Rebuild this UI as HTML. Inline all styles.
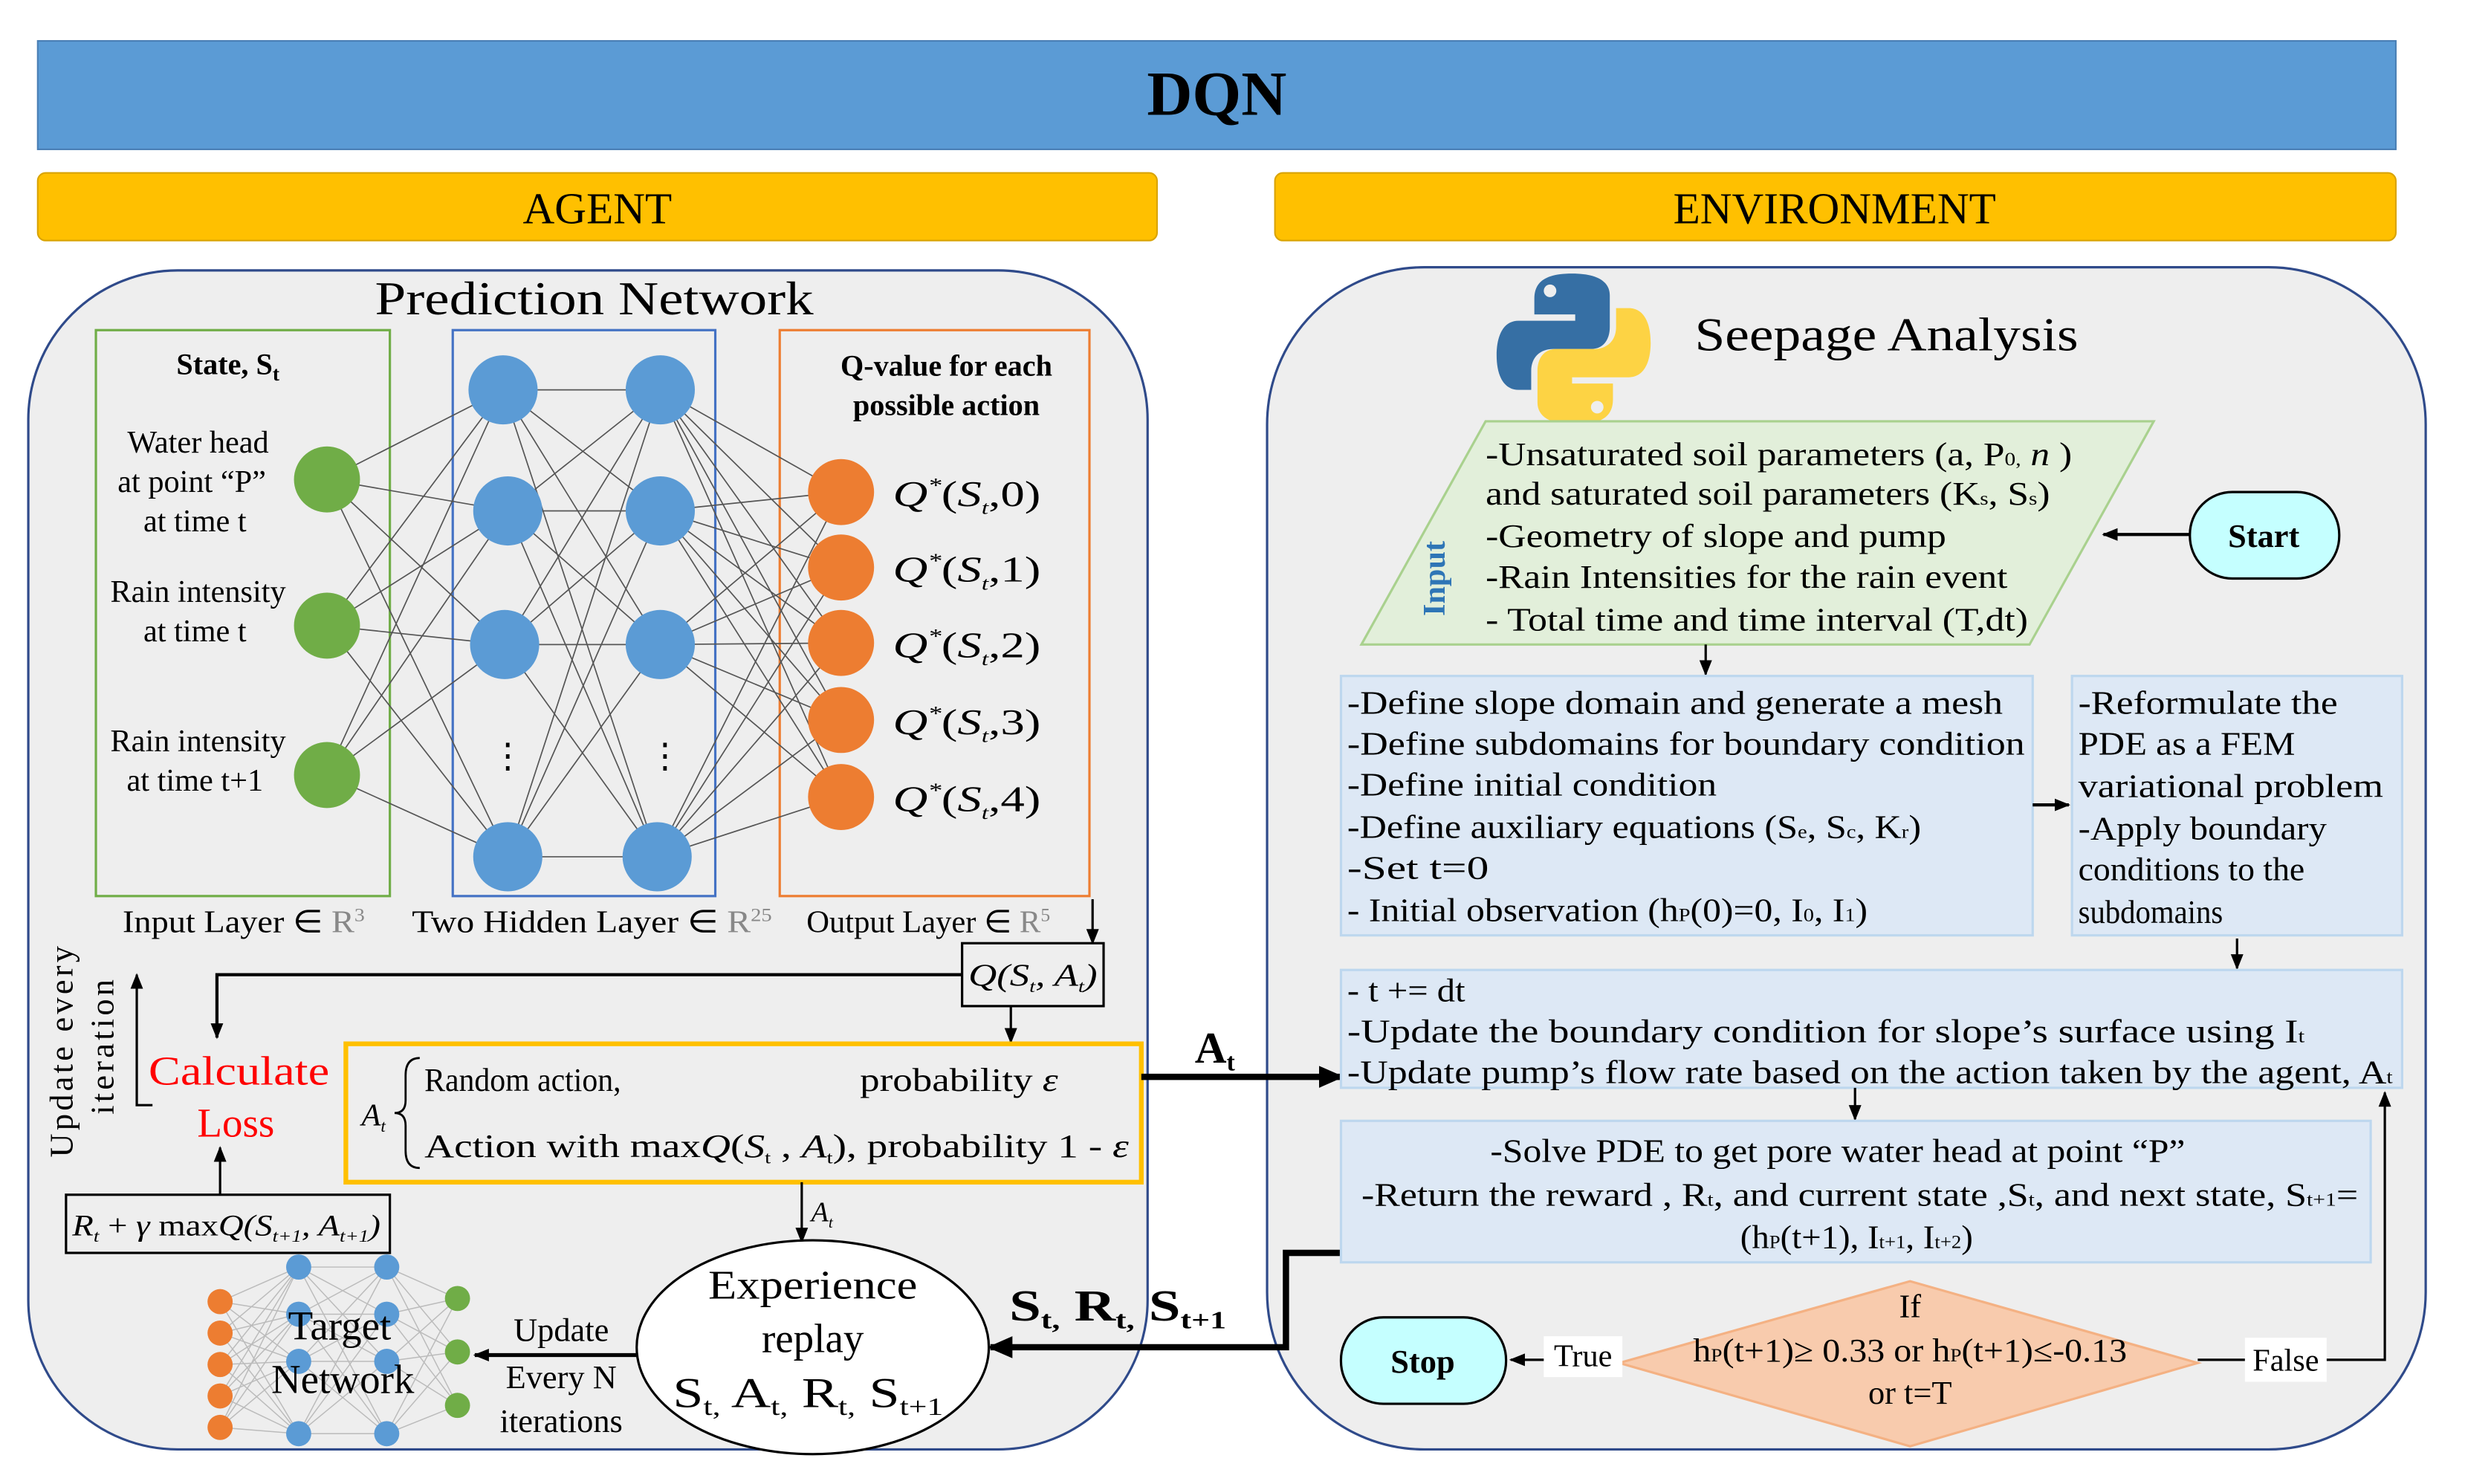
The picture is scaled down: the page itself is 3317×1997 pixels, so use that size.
<!DOCTYPE html>
<html><head><meta charset="utf-8"><style>
html,body{margin:0;padding:0;background:#fff;}
svg{display:block;}
text{font-family:"Liberation Serif",serif;}
</style></head><body>
<svg id="s" xmlns="http://www.w3.org/2000/svg" width="3317" height="1997" viewBox="0 0 1568 944">
<defs>
<marker id="ah" markerWidth="10" markerHeight="10" refX="9" refY="5" orient="auto" markerUnits="userSpaceOnUse"><path d="M0,1 L10,5 L0,9 z" fill="#000"/></marker>
<marker id="ahb" markerWidth="16" markerHeight="16" refX="14" refY="8" orient="auto" markerUnits="userSpaceOnUse"><path d="M0,1 L16,8 L0,15 z" fill="#000"/></marker>
</defs>
<rect width="1568" height="944" fill="#fff"/>
<rect x="24" y="26" width="1500" height="69" fill="#5b9bd5" stroke="#4a7fb5"/>
<text x="774" y="73" font-size="40" font-weight="bold" text-anchor="middle">DQN</text>
<rect x="24" y="110" width="712" height="43" rx="5" fill="#ffc000" stroke="#d9a300"/>
<text x="380" y="142" font-size="28" text-anchor="middle">AGENT</text>
<rect x="811" y="110" width="713" height="43" rx="5" fill="#ffc000" stroke="#d9a300"/>
<text x="1167" y="142" font-size="28" text-anchor="middle">ENVIRONMENT</text>
<rect x="18" y="172" width="712" height="750" rx="95" fill="#eeeeee" stroke="#2f4a8a" stroke-width="1.5"/>
<rect x="806" y="170" width="737" height="752" rx="100" fill="#eeeeee" stroke="#2f4a8a" stroke-width="1.5"/>
<text x="378" y="200" font-size="30" text-anchor="middle" textLength="279" lengthAdjust="spacingAndGlyphs">Prediction Network</text>
<rect x="61" y="210" width="187" height="360" fill="none" stroke="#70ad47" stroke-width="1.5"/>
<rect x="288" y="210" width="167" height="360" fill="none" stroke="#4472c4" stroke-width="1.5"/>
<rect x="496" y="210" width="197" height="360" fill="none" stroke="#ed7d31" stroke-width="1.5"/>
<g id="net" stroke="#555" stroke-width="0.8"></g>
<g id="nodes"></g>
<text x="423" y="488" font-size="22" text-anchor="middle">⋮</text>
<text x="323" y="488" font-size="22" text-anchor="middle">⋮</text>
<text x="145" y="238" font-size="19" font-weight="bold" text-anchor="middle">State, S<tspan font-size="13" dy="4">t</tspan></text>
<g font-size="20" text-anchor="middle">
<text x="126" y="288">Water head</text><text x="122" y="313">at point “P”</text><text x="124" y="338">at time t</text>
<text x="126" y="383">Rain intensity</text><text x="124" y="408">at time t</text>
<text x="126" y="478">Rain intensity</text><text x="124" y="503">at time t+1</text>
</g>
<text x="602" y="239" font-size="19" font-weight="bold" text-anchor="middle">Q-value for each</text>
<text x="602" y="264" font-size="19" font-weight="bold" text-anchor="middle">possible action</text>
<g font-size="23" font-style="italic">
<text x="568" y="322" textLength="94" lengthAdjust="spacingAndGlyphs">Q<tspan font-size="13" dy="-9">*</tspan><tspan dy="9" font-style="normal">(</tspan>S<tspan font-size="12" dy="5">t</tspan><tspan dy="-5" font-style="normal">,0)</tspan></text>
<text x="568" y="370" textLength="94" lengthAdjust="spacingAndGlyphs">Q<tspan font-size="13" dy="-9">*</tspan><tspan dy="9" font-style="normal">(</tspan>S<tspan font-size="12" dy="5">t</tspan><tspan dy="-5" font-style="normal">,1)</tspan></text>
<text x="568" y="418" textLength="94" lengthAdjust="spacingAndGlyphs">Q<tspan font-size="13" dy="-9">*</tspan><tspan dy="9" font-style="normal">(</tspan>S<tspan font-size="12" dy="5">t</tspan><tspan dy="-5" font-style="normal">,2)</tspan></text>
<text x="568" y="467" textLength="94" lengthAdjust="spacingAndGlyphs">Q<tspan font-size="13" dy="-9">*</tspan><tspan dy="9" font-style="normal">(</tspan>S<tspan font-size="12" dy="5">t</tspan><tspan dy="-5" font-style="normal">,3)</tspan></text>
<text x="568" y="516" textLength="94" lengthAdjust="spacingAndGlyphs">Q<tspan font-size="13" dy="-9">*</tspan><tspan dy="9" font-style="normal">(</tspan>S<tspan font-size="12" dy="5">t</tspan><tspan dy="-5" font-style="normal">,4)</tspan></text>
</g>
<g font-size="20">
<text x="78" y="593" textLength="154" lengthAdjust="spacingAndGlyphs">Input Layer ∈ <tspan fill="#888">R<tspan font-size="12" dy="-7">3</tspan></tspan></text>
<text x="262" y="593" textLength="229" lengthAdjust="spacingAndGlyphs">Two Hidden Layer ∈ <tspan fill="#888">R<tspan font-size="12" dy="-7">25</tspan></tspan></text>
<text x="513" y="593" textLength="155" lengthAdjust="spacingAndGlyphs">Output Layer ∈ <tspan fill="#888">R<tspan font-size="12" dy="-7">5</tspan></tspan></text>
</g>
<line x1="695" y1="572" x2="695" y2="600" stroke="#000" stroke-width="1.5" marker-end="url(#ah)"/>
<rect x="612" y="600" width="90" height="40" fill="#eee" stroke="#000" stroke-width="1.5"/>
<text x="616" y="627" font-size="20" font-style="italic" textLength="82" lengthAdjust="spacingAndGlyphs">Q(S<tspan font-size="11" dy="4">t</tspan><tspan dy="-4">, A</tspan><tspan font-size="11" dy="4">t</tspan><tspan dy="-4">)</tspan></text>
<polyline points="612,620 138,620 138,660" fill="none" stroke="#000" stroke-width="2" marker-end="url(#ah)"/>
<line x1="643" y1="640" x2="643" y2="663" stroke="#000" stroke-width="1.5" marker-end="url(#ah)"/>
<rect x="220" y="664" width="506" height="88" fill="none" stroke="#ffc000" stroke-width="3"/>
<text x="230" y="716" font-size="20" font-style="italic">A<tspan font-size="11" dy="4">t</tspan></text>
<path d="M267,673 Q258,673 258,684 L258,700 Q258,708 251,708 Q258,708 258,716 L258,732 Q258,743 267,743" fill="none" stroke="#000" stroke-width="1.3"/>
<text x="270" y="694" font-size="21" textLength="125" lengthAdjust="spacingAndGlyphs">Random action,</text>
<text x="547" y="694" font-size="21" textLength="126" lengthAdjust="spacingAndGlyphs">probability <tspan font-style="italic">ε</tspan></text>
<text x="270" y="736" font-size="21" textLength="448" lengthAdjust="spacingAndGlyphs">Action with  max<tspan font-style="italic">Q</tspan>(<tspan font-style="italic">S</tspan><tspan font-size="11" dy="4">t</tspan><tspan dy="-4"> , </tspan><tspan font-style="italic">A</tspan><tspan font-size="11" dy="4">t</tspan><tspan dy="-4">),  probability 1 - </tspan><tspan font-style="italic">ε</tspan></text>
<text x="152" y="690" font-size="26" fill="#ff0000" text-anchor="middle" textLength="115" lengthAdjust="spacingAndGlyphs">Calculate</text>
<text x="150" y="723" font-size="26" fill="#ff0000" text-anchor="middle">Loss</text>
<text transform="translate(46,668) rotate(-90)" font-size="21" text-anchor="middle" letter-spacing="2">Update every</text>
<text transform="translate(72,665) rotate(-90)" font-size="21" text-anchor="middle" letter-spacing="2">iteration</text>
<polyline points="97,703 87,703 87,620" fill="none" stroke="#000" stroke-width="1.5" marker-end="url(#ah)"/>
<rect x="42" y="760" width="206" height="37" fill="#eee" stroke="#000" stroke-width="1.5"/>
<text x="46" y="786" font-size="19" font-style="italic" textLength="196" lengthAdjust="spacingAndGlyphs">R<tspan font-size="11" dy="4">t</tspan><tspan dy="-4" font-style="normal"> + </tspan>γ<tspan font-style="normal"> max</tspan>Q(S<tspan font-size="11" dy="4">t+1</tspan><tspan dy="-4">, A</tspan><tspan font-size="11" dy="4">t+1</tspan><tspan dy="-4">)</tspan></text>
<line x1="140" y1="760" x2="140" y2="730" stroke="#000" stroke-width="1.5" marker-end="url(#ah)"/>
<line x1="510" y1="752" x2="510" y2="790" stroke="#000" stroke-width="1.5" marker-end="url(#ah)"/>
<text x="516" y="777" font-size="18" font-style="italic">A<tspan font-size="10" dy="4">t</tspan></text>
<ellipse cx="517" cy="857" rx="112" ry="68" fill="#fff" stroke="#000" stroke-width="1.5"/>
<text x="517" y="826" font-size="26" text-anchor="middle" textLength="133" lengthAdjust="spacingAndGlyphs">Experience</text>
<text x="517" y="860" font-size="26" text-anchor="middle">replay</text>
<text x="428" y="895" font-size="27" textLength="172" lengthAdjust="spacingAndGlyphs">S<tspan font-size="16" dy="5">t,</tspan><tspan dy="-5"> A</tspan><tspan font-size="16" dy="5">t,</tspan><tspan dy="-5"> R</tspan><tspan font-size="16" dy="5">t,</tspan><tspan dy="-5"> S</tspan><tspan font-size="16" dy="5">t+1</tspan></text>
<g id="tnet" stroke="#bbb" stroke-width="0.7"></g>
<g id="tnodes"></g>
<text x="216" y="852" font-size="26" text-anchor="middle">Target</text>
<text x="218" y="886" font-size="26" text-anchor="middle">Network</text>
<text x="357" y="853" font-size="21" text-anchor="middle">Update</text>
<text x="357" y="883" font-size="21" text-anchor="middle">Every N</text>
<text x="357" y="911" font-size="21" text-anchor="middle">iterations</text>
<line x1="405" y1="862" x2="302" y2="862" stroke="#000" stroke-width="2.5" marker-end="url(#ah)"/>
<line x1="726" y1="685" x2="853" y2="685" stroke="#000" stroke-width="4" marker-end="url(#ahb)"/>
<text x="760" y="676" font-size="28" font-weight="bold">A<tspan font-size="16" dy="5">t</tspan></text>
<polyline points="853,797 818,797 818,857 630,857" fill="none" stroke="#000" stroke-width="4" marker-end="url(#ahb)"/>
<text x="642" y="840" font-size="28" font-weight="bold" textLength="138" lengthAdjust="spacingAndGlyphs">S<tspan font-size="16" dy="5">t,</tspan><tspan dy="-5"> R</tspan><tspan font-size="16" dy="5">t,</tspan><tspan dy="-5"> S</tspan><tspan font-size="16" dy="5">t+1</tspan></text>
<g transform="translate(952,172)">
<path d="M48,2 C30,2 24,8 24,18 L24,28 L50,28 L50,32 L14,32 C4,32 0,42 0,54 C0,66 4,76 14,76 L22,76 L22,64 C22,55 28,50 36,50 L60,50 C68,50 72,44 72,36 L72,16 C72,7 64,2 48,2 Z" fill="#366fa4"/>
<circle cx="34" cy="13" r="4" fill="#eee"/>
<path d="M50,98 C68,98 74,92 74,82 L74,72 L48,72 L48,68 L84,68 C94,68 98,58 98,46 C98,34 94,24 84,24 L76,24 L76,36 C76,45 70,50 62,50 L38,50 C30,50 26,56 26,64 L26,84 C26,93 34,98 50,98 Z" fill="#fdd344"/>
<circle cx="64" cy="87" r="4" fill="#eee"/>
</g>
<text x="1078" y="223" font-size="30" textLength="244" lengthAdjust="spacingAndGlyphs">Seepage Analysis</text>
<polygon points="945,268 1370,268 1291,410 866,410" fill="#e2efda" stroke="#a9d18e" stroke-width="1.5"/>
<text transform="translate(919,368) rotate(-90)" font-size="20" font-weight="bold" fill="#2e75b6" text-anchor="middle">Input</text>
<g font-size="21">
<text x="945" y="296" textLength="373" lengthAdjust="spacingAndGlyphs">-Unsaturated soil parameters (a, P<tspan font-size="12">0,</tspan> <tspan font-style="italic">n</tspan> )</text>
<text x="945" y="321" textLength="359" lengthAdjust="spacingAndGlyphs">and saturated soil parameters (K<tspan font-size="12">s</tspan>, S<tspan font-size="12">s</tspan>)</text>
<text x="945" y="348" textLength="293" lengthAdjust="spacingAndGlyphs">-Geometry of slope and pump</text>
<text x="945" y="374" textLength="332" lengthAdjust="spacingAndGlyphs">-Rain Intensities for the rain event</text>
<text x="945" y="401" textLength="345" lengthAdjust="spacingAndGlyphs">- Total time and time interval (T,dt)</text>
</g>
<rect x="1393" y="313" width="95" height="55" rx="27" fill="#c5ffff" stroke="#000" stroke-width="1.5"/>
<text x="1440" y="348" font-size="21" font-weight="bold" text-anchor="middle">Start</text>
<line x1="1393" y1="340" x2="1338" y2="340" stroke="#000" stroke-width="2" marker-end="url(#ah)"/>
<line x1="1085" y1="410" x2="1085" y2="429" stroke="#000" stroke-width="1.5" marker-end="url(#ah)"/>
<rect x="853" y="430" width="440" height="165" fill="#dde8f5" stroke="#bdd7ee" stroke-width="1.5"/>
<g font-size="21">
<text x="857" y="454" textLength="417" lengthAdjust="spacingAndGlyphs">-Define slope domain and generate a mesh</text>
<text x="857" y="480" textLength="431" lengthAdjust="spacingAndGlyphs">-Define subdomains for boundary condition</text>
<text x="857" y="506" textLength="235" lengthAdjust="spacingAndGlyphs">-Define initial condition</text>
<text x="857" y="533" textLength="365" lengthAdjust="spacingAndGlyphs">-Define auxiliary equations (S<tspan font-size="12">e</tspan>, S<tspan font-size="12">c</tspan>, K<tspan font-size="12">r</tspan>)</text>
<text x="857" y="559" textLength="90" lengthAdjust="spacingAndGlyphs">-Set t=0</text>
<text x="857" y="586" textLength="331" lengthAdjust="spacingAndGlyphs">- Initial observation (h<tspan font-size="12">P</tspan>(0)=0, I<tspan font-size="12">0</tspan>, I<tspan font-size="12">1</tspan>)</text>
</g>
<line x1="1293" y1="512" x2="1316" y2="512" stroke="#000" stroke-width="2" marker-end="url(#ah)"/>
<rect x="1318" y="430" width="210" height="165" fill="#dde8f5" stroke="#bdd7ee" stroke-width="1.5"/>
<g font-size="21">
<text x="1322" y="454" textLength="165" lengthAdjust="spacingAndGlyphs">-Reformulate the</text>
<text x="1322" y="480" textLength="138" lengthAdjust="spacingAndGlyphs">PDE as a FEM</text>
<text x="1322" y="507" textLength="194" lengthAdjust="spacingAndGlyphs">variational problem</text>
<text x="1322" y="534" textLength="158" lengthAdjust="spacingAndGlyphs">-Apply boundary</text>
<text x="1322" y="560" textLength="144" lengthAdjust="spacingAndGlyphs">conditions to the</text>
<text x="1322" y="587" textLength="92" lengthAdjust="spacingAndGlyphs">subdomains</text>
</g>
<line x1="1423" y1="597" x2="1423" y2="616" stroke="#000" stroke-width="1.5" marker-end="url(#ah)"/>
<rect x="853" y="617" width="675" height="75" fill="#dde8f5" stroke="#bdd7ee" stroke-width="1.5"/>
<g font-size="21">
<text x="857" y="637" textLength="75" lengthAdjust="spacingAndGlyphs">- t += dt</text>
<text x="857" y="663" textLength="609" lengthAdjust="spacingAndGlyphs">-Update the boundary condition for slope’s surface using I<tspan font-size="12">t</tspan></text>
<text x="857" y="689" textLength="665" lengthAdjust="spacingAndGlyphs">-Update pump’s flow rate based on the action taken by the agent, A<tspan font-size="12">t</tspan></text>
</g>
<line x1="1180" y1="692" x2="1180" y2="712" stroke="#000" stroke-width="1.5" marker-end="url(#ah)"/>
<rect x="853" y="713" width="655" height="90" fill="#dde8f5" stroke="#bdd7ee" stroke-width="1.5"/>
<g font-size="21" text-anchor="middle">
<text x="1169" y="739" textLength="442" lengthAdjust="spacingAndGlyphs">-Solve PDE to get pore water head at point “P”</text>
<text x="1183" y="767" textLength="634" lengthAdjust="spacingAndGlyphs">-Return the reward , R<tspan font-size="12">t</tspan>, and current state ,S<tspan font-size="12">t</tspan>, and  next state, S<tspan font-size="12">t+1</tspan>=</text>
<text x="1181" y="794" textLength="148" lengthAdjust="spacingAndGlyphs">(h<tspan font-size="12">P</tspan>(t+1), I<tspan font-size="12">t+1</tspan>, I<tspan font-size="12">t+2</tspan>)</text>
</g>
<polygon points="1215,815 1398,867 1215,920 1030,867" fill="#f8cbad" stroke="#f4b183" stroke-width="1.5"/>
<g font-size="21" text-anchor="middle">
<text x="1215" y="838">If</text>
<text x="1215" y="866" textLength="276" lengthAdjust="spacingAndGlyphs">h<tspan font-size="12">P</tspan>(t+1)≥ 0.33 or  h<tspan font-size="12">P</tspan>(t+1)≤-0.13</text>
<text x="1215" y="893">or t=T</text>
</g>
<rect x="853" y="838" width="105" height="55" rx="27" fill="#c5ffff" stroke="#000" stroke-width="1.5"/>
<text x="905" y="873" font-size="21" font-weight="bold" text-anchor="middle">Stop</text>
<line x1="1030" y1="865" x2="961" y2="865" stroke="#000" stroke-width="1.5" marker-end="url(#ah)"/>
<rect x="982" y="850" width="50" height="26" fill="#fff"/>
<text x="1007" y="869" font-size="20" text-anchor="middle">True</text>
<polyline points="1398,865 1517,865 1517,695" fill="none" stroke="#000" stroke-width="1.5" marker-end="url(#ah)"/>
<rect x="1428" y="851" width="52" height="28" fill="#fff"/>
<text x="1454" y="872" font-size="20" text-anchor="middle">False</text>
</svg>
<script>
var NS="http://www.w3.org/2000/svg";
function L(g,a,b){var l=document.createElementNS(NS,"line");l.setAttribute("x1",a[0]);l.setAttribute("y1",a[1]);l.setAttribute("x2",b[0]);l.setAttribute("y2",b[1]);g.appendChild(l);}
function C(g,p,r,f){var c=document.createElementNS(NS,"circle");c.setAttribute("cx",p[0]);c.setAttribute("cy",p[1]);c.setAttribute("r",r);c.setAttribute("fill",f);g.appendChild(c);}
function layers(ls,gl,gn,r,cols){for(var i=0;i<ls.length-1;i++)for(var a=0;a<ls[i].length;a++)for(var b=0;b<ls[i+1].length;b++)L(gl,ls[i][a],ls[i+1][b]);
for(var i=0;i<ls.length;i++)for(var a=0;a<ls[i].length;a++)C(gn,ls[i][a],r[i],cols[i]);}
var inp=[[208,305],[208,398],[208,493]];
var h1=[[320,248],[323,325],[321,410],[323,545]];
var h2=[[420,248],[420,325],[420,410],[418,545]];
var out=[[535,313],[535,361],[535,409],[535,458],[535,507]];
layers([inp,h1,h2,out],document.getElementById("net"),document.getElementById("nodes"),[21,22,22,21],["#70ad47","#5b9bd5","#5b9bd5","#ed7d31"]);
var o=[[140,828],[140,848],[140,868],[140,888],[140,908]];
var b1=[[190,806],[190,836],[190,866],[190,912]];
var b2=[[246,806],[246,836],[246,866],[246,912]];
var g=[[291,826],[291,860],[291,894]];
layers([o,b1,b2,g],document.getElementById("tnet"),document.getElementById("tnodes"),[8,8,8,8],["#ed7d31","#5b9bd5","#5b9bd5","#70ad47"]);
</script>
</body></html>
